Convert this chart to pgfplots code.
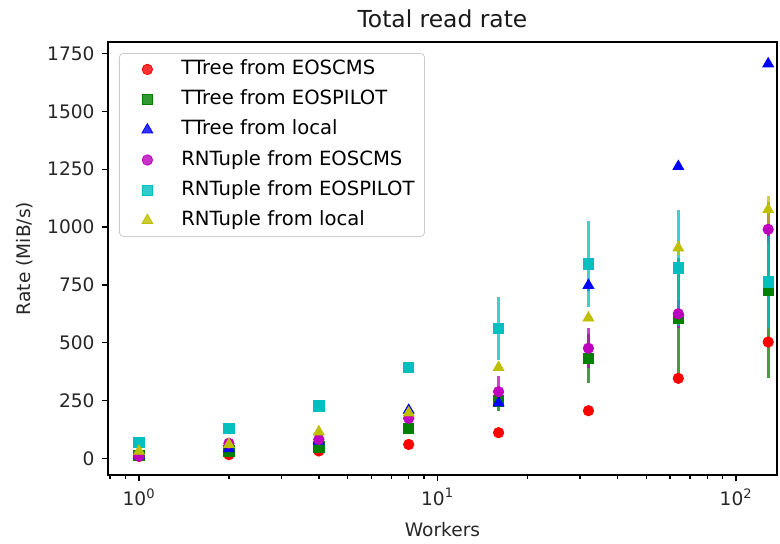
\documentclass[border=0pt]{standalone}
\usepackage{fontspec}
\setmainfont{DejaVu Sans}
\usepackage{pgfplots}
\pgfplotsset{compat=1.18}
\definecolor{mr}{rgb}{1,0,0}
\definecolor{mg}{rgb}{0,0.5,0}
\definecolor{mb}{rgb}{0,0,1}
\definecolor{mm}{rgb}{0.75,0,0.75}
\definecolor{mc}{rgb}{0,0.75,0.75}
\definecolor{my}{rgb}{0.75,0.75,0}
\pgfplotsset{
  pts/.style={only marks,
    legend image code/.code={\path[draw=none] (0pt,0pt) (26pt,0pt); \draw[##1] plot coordinates {(11pt,0pt)};}},
}
\begin{document}
\begin{tikzpicture}
\useasboundingbox (-54pt,-34pt) rectangle (336pt,237.5pt);
\begin{axis}[
  scale only axis, width=334.5pt, height=216.5pt,
  xmode=log, xmin=0.787, xmax=137, ymin=-72, ymax=1800,
  axis line style={line width=0.7pt},
  tick style={line width=0.7pt, black},
  tick align=outside, tick pos=left,
  major tick length=3.2pt, minor tick length=1.8pt,
  xtick={1,10,100}, xticklabels={10\textsuperscript{0},10\textsuperscript{1},10\textsuperscript{2}},
  minor xtick={0.8,0.9,2,3,4,5,6,7,8,9,20,30,40,50,60,70,80,90},
  ytick={0,250,500,750,1000,1250,1500,1750},
  yticklabels={0,250,500,750,1000,1250,1500,1750},
  ticklabel style={font=\fontsize{9.3}{10}\selectfont, text=black!85},
  title={Total read rate},
  every axis title/.style={at={(axis description cs:0.5,1.053)}, anchor=center, font=\fontsize{11.7}{13}\selectfont, text=black!90},
  xlabel={Workers},
  every axis x label/.style={at={(axis description cs:0.5,-0.127)}, anchor=center, font=\fontsize{9.3}{10}\selectfont, text=black!85},
  ylabel={Rate (MiB/s)},
  every axis y label/.style={at={(axis description cs:-0.124,0.5)}, anchor=center, rotate=90, font=\fontsize{9.3}{10}\selectfont, text=black!85},
  legend style={at={(axis description cs:0.0164,0.9746)}, anchor=north west,
    draw=black!20, rounded corners=2pt, fill=white, fill opacity=0.8, text opacity=1,
    font=\fontsize{9.8}{10}\selectfont, row sep=2.1pt,
    nodes={text height=7pt, text depth=2pt, inner sep=2pt},
    inner xsep=3pt, inner ysep=1.5pt},
  legend cell align=left,
  error bars/y dir=both, error bars/y explicit,
  error bars/error mark=none,
]
\addplot[pts, mark=*, mark size=2.6pt, color=mr, mark options={draw=mr, fill=mr},
  error bars/error bar style={line width=1.6pt, mr, opacity=0.75}]
  table[x=x, y=y, y error=e] {
x y e
1 8 1
2 16 1
4 32 2
8 60 3
16 111 5
32 206 8
64 346 10
128 503 15
};
\addlegendentry{TTree from EOSCMS}
\addplot[pts, mark=square*, mark size=2.6pt, color=mg, mark options={draw=mg, fill=mg},
  error bars/error bar style={line width=1.6pt, mg, opacity=0.75}]
  table[x=x, y=y, y error=e] {
x y e
1 14 1
2 32 2
4 50 3
8 130 8
16 249 45
32 432 105
64 605 260
128 727 380
};
\addlegendentry{TTree from EOSPILOT}
\addplot[pts, mark=triangle*, mark size=3.1pt, color=mb, mark options={draw=mb, fill=mb},
  error bars/error bar style={line width=1.6pt, mb, opacity=0.75}]
  table[x=x, y=y, y error=e] {
x y e
1 12 1
2 42 2
4 75 3
8 208 8
16 240 10
32 748 25
64 1262 10
128 1706 8
};
\addlegendentry{TTree from local}
\addplot[pts, mark=*, mark size=2.6pt, color=mm, mark options={draw=mm, fill=mm},
  error bars/error bar style={line width=1.6pt, mm, opacity=0.75}]
  table[x=x, y=y, y error=e] {
x y e
1 10 1
2 65 2
4 82 4
8 173 10
16 288 68
32 476 86
64 625 60
128 990 60
};
\addlegendentry{RNTuple from EOSCMS}
\addplot[pts, mark=square*, mark size=2.6pt, color=mc, mark options={draw=mc, fill=mc},
  error bars/error bar style={line width=1.6pt, mc, opacity=0.75}]
  table[x=x, y=y, y error=e] {
x y e
1 70 3
2 130 4
4 226 8
8 392 10
16 562 135
32 840 185
64 824 250
128 763 200
};
\addlegendentry{RNTuple from EOSPILOT}
\addplot[pts, mark=triangle*, mark size=3.1pt, color=my, mark options={draw=my, fill=my},
  error bars/error bar style={line width=1.6pt, my, opacity=0.75}]
  table[x=x, y=y, y error=e] {
x y e
1 31 2
2 60 2
4 115 4
8 197 8
16 393 15
32 607 15
64 910 30
128 1075 60
};
\addlegendentry{RNTuple from local}
\end{axis}
\end{tikzpicture}
\end{document}
